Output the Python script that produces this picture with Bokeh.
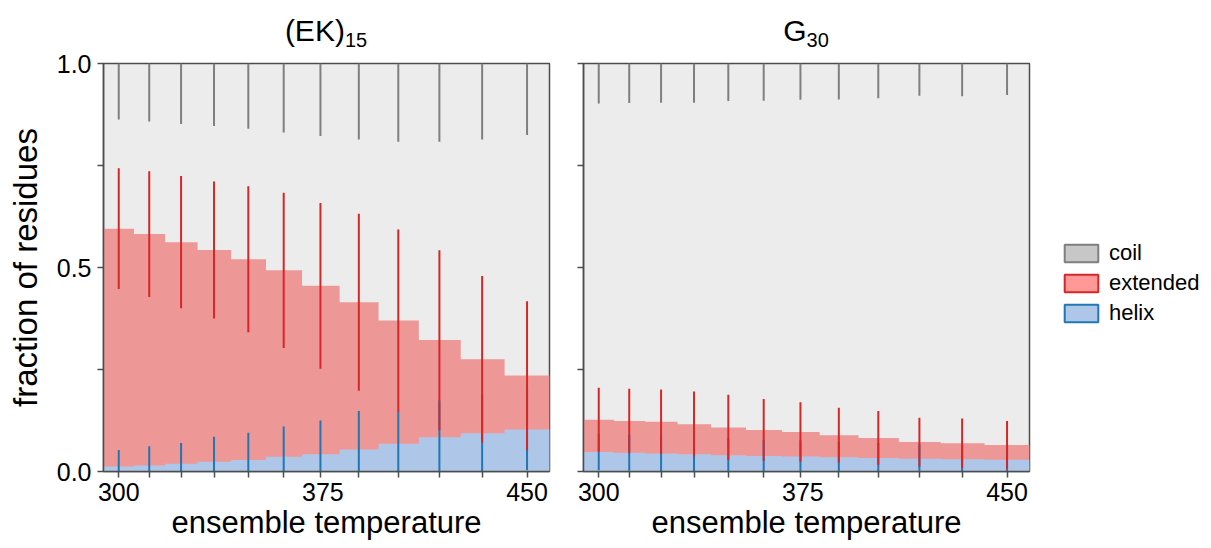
import numpy as np
from bokeh.plotting import figure
from bokeh.layouts import row, column
from bokeh.models import Range1d, FixedTicker, Legend, LegendItem, ColumnDataSource, Div
from bokeh.embed import file_html
from bokeh.resources import INLINE

# ---------------- data ----------------
temps = [300.0, 311.2, 322.9, 335.0, 347.6, 360.6, 374.1, 388.2, 402.7, 417.8, 433.5, 450.0]
x_tick_labels = [300, 375, 450]
y_ticks = [0, 0.25, 0.5, 0.75, 1]
y_tick_labels = {0: "0.0", 0.25: "", 0.5: "0.5", 0.75: "", 1: "1.0"}
series = ["coil", "extended", "helix"]
titles = [("(EK)", "15"), ("G", "30")]

# (EK)15
ek_helix = [0.012, 0.015, 0.019, 0.024, 0.028, 0.036, 0.042, 0.054, 0.068, 0.084, 0.094, 0.103]
ek_extended = [0.583, 0.567, 0.543, 0.519, 0.492, 0.457, 0.413, 0.361, 0.302, 0.238, 0.181, 0.132]
ek_helix_sd = [0.041, 0.047, 0.051, 0.061, 0.067, 0.074, 0.083, 0.094, 0.080, 0.090, 0.095, 0.100]
ek_extended_sd = [0.148, 0.154, 0.162, 0.168, 0.179, 0.190, 0.203, 0.217, 0.223, 0.220, 0.204, 0.182]
ek_coil_sd = [0.137, 0.142, 0.148, 0.153, 0.160, 0.169, 0.178, 0.186, 0.192, 0.192, 0.186, 0.175]

# G30
g_helix = [0.048, 0.046, 0.044, 0.042, 0.040, 0.038, 0.037, 0.035, 0.033, 0.031, 0.030, 0.029]
g_extended = [0.079, 0.078, 0.078, 0.074, 0.068, 0.064, 0.060, 0.054, 0.049, 0.041, 0.039, 0.036]
g_helix_sd = [0.045, 0.044, 0.043, 0.042, 0.041, 0.040, 0.039, 0.038, 0.037, 0.036, 0.035, 0.034]
g_extended_sd = [0.078, 0.079, 0.079, 0.080, 0.080, 0.076, 0.073, 0.067, 0.066, 0.060, 0.061, 0.059]
g_coil_sd = [0.098, 0.097, 0.096, 0.096, 0.092, 0.091, 0.089, 0.088, 0.085, 0.079, 0.080, 0.077]

# ---------------- style ----------------
FONT = "Liberation Sans"
BG = "#ececec"
EXT_FILL = "#ed9797"
HEL_FILL = "#aec7e8"
EXT_LINE = "#d62728"
HEL_LINE = "#1f77b4"
COIL_LINE = "#7f7f7f"
AX = "#4d4d4d"
TICK_FS = "25px"
XLABEL_FS = "31px"
YLABEL_FS = "33px"

T = np.array(temps)
mids = (T[:-1] + T[1:]) / 2
edges = np.concatenate([[T[0] - (T[1] - T[0]) / 2], mids, [T[-1] + (T[-1] - T[-2]) / 2]])


def panel(helix, ext, h_sd, e_sd, c_sd, width, min_left, min_right):
    p = figure(width=width, height=498, output_backend="svg", toolbar_location=None,
               x_range=Range1d(edges[0], edges[-1]), y_range=Range1d(0, 1),
               min_border_left=min_left, min_border_right=min_right,
               min_border_top=13, min_border_bottom=77)
    p.background_fill_color = BG
    p.border_fill_color = "white"
    p.outline_line_color = AX
    p.outline_line_width = 1.5
    p.grid.visible = False

    h = np.array(helix)
    e = np.array(ext) + h
    hs = np.append(h, h[-1])
    es = np.append(e, e[-1])
    zeros = np.zeros(len(edges))
    p.varea_step(x=edges, y1=zeros, y2=es, step_mode="after", fill_color=EXT_FILL)
    p.varea_step(x=edges, y1=zeros, y2=hs, step_mode="after", fill_color=HEL_FILL)

    hsd = np.array(h_sd)
    esd = np.array(e_sd)
    csd = np.array(c_sd)
    p.segment(x0=T, y0=np.clip(h - hsd, 0, 1), x1=T, y1=np.clip(h + hsd, 0, 1), line_color=HEL_LINE, line_width=2)
    p.segment(x0=T, y0=np.clip(e - esd, 0, 1), x1=T, y1=np.clip(e + esd, 0, 1), line_color=EXT_LINE, line_width=2)
    p.segment(x0=T, y0=np.clip(1 - csd, 0, 1), x1=T, y1=np.ones(len(T)), line_color=COIL_LINE, line_width=2)

    p.xaxis.ticker = FixedTicker(ticks=x_tick_labels, minor_ticks=temps)
    p.xaxis.major_tick_out = 0
    p.xaxis.major_tick_in = 0
    p.xaxis.minor_tick_out = 6
    p.xaxis.minor_tick_in = 0
    p.xaxis.minor_tick_line_color = AX
    p.xaxis.minor_tick_line_width = 1.5
    p.xaxis.axis_label = "ensemble temperature"

    p.yaxis.ticker = FixedTicker(ticks=y_ticks, minor_ticks=[])
    p.yaxis.major_tick_out = 6
    p.yaxis.major_tick_in = 0
    p.yaxis.major_tick_line_color = AX
    p.yaxis.major_tick_line_width = 1.5
    p.yaxis.minor_tick_out = 0

    for ax in (p.xaxis, p.yaxis):
        ax.axis_line_color = AX
        ax.axis_line_width = 1.5
        ax.major_label_text_font = FONT
        ax.major_label_text_font_size = TICK_FS
        ax.major_label_text_color = "black"
        ax.axis_label_text_font = FONT
        ax.axis_label_text_font_style = "normal"
        ax.axis_label_text_color = "black"
    p.xaxis.axis_label_text_font_size = XLABEL_FS
    p.yaxis.axis_label_text_font_size = YLABEL_FS
    p.xaxis.major_label_standoff = 5
    p.xaxis.axis_label_standoff = 1
    return p


p1 = panel(ek_helix, ek_extended, ek_helix_sd, ek_extended_sd, ek_coil_sd, 566, 103, 17)
p1.yaxis.major_label_overrides = y_tick_labels
p1.yaxis.axis_label = "fraction of residues"
p1.yaxis.axis_label_standoff = 10
p1.yaxis.major_label_standoff = 6

p2 = panel(g_helix, g_extended, g_helix_sd, g_extended_sd, g_coil_sd, 473, 17, 10)
p2.yaxis.major_label_overrides = {k: "" for k in y_tick_labels}

# legend figure
p3 = figure(width=172, height=498, output_backend="svg", toolbar_location=None,
            x_range=Range1d(0, 1), y_range=Range1d(0, 1),
            min_border_left=0, min_border_right=0, min_border_top=0, min_border_bottom=0,
            x_axis_location=None, y_axis_location=None)
p3.outline_line_color = None
p3.background_fill_color = "white"
p3.grid.visible = False
src = ColumnDataSource(dict(left=[np.nan], right=[np.nan], top=[np.nan], bottom=[np.nan]))
legend_fills = ["#c7c7c7", "#ff9896", HEL_FILL]
legend_lines = [COIL_LINE, EXT_LINE, HEL_LINE]
rs = [p3.quad(left="left", right="right", top="top", bottom="bottom", source=src,
              fill_color=f, line_color=l, line_width=2) for f, l in zip(legend_fills, legend_lines)]
legend = Legend(items=[LegendItem(label=s, renderers=[r]) for s, r in zip(series, rs)],
                location=(21, 145), orientation="vertical")
legend.border_line_color = None
legend.background_fill_color = None
legend.margin = 0
legend.padding = 0
legend.glyph_width = 42
legend.glyph_height = 22
legend.spacing = 4
legend.label_standoff = 7
legend.label_text_font = FONT
legend.label_text_font_size = "22px"
legend.label_text_color = "black"
p3.add_layout(legend, "center")


def title_div(main, sub, width, left, frame_w):
    html = (f'<div style="margin-left:{left}px;width:{frame_w}px;text-align:center;'
            f'font-family:\'{FONT}\';font-size:30px;line-height:30px;padding-top:16px;color:black;">'
            f'{main}<span style="font-size:20px;position:relative;top:6px;">{sub}</span></div>')
    return Div(text=html, width=width, height=50, margin=0)


d1 = title_div(titles[0][0], titles[0][1], 566, 103, 446)
d2 = title_div(titles[1][0], titles[1][1], 473, 17, 446)
d3 = Div(text="", width=172, height=50, margin=0)

layout = column(row(d1, d2, d3, spacing=0), row(p1, p2, p3, spacing=0), spacing=0)
open("out.html", "w").write(file_html(layout, INLINE))
